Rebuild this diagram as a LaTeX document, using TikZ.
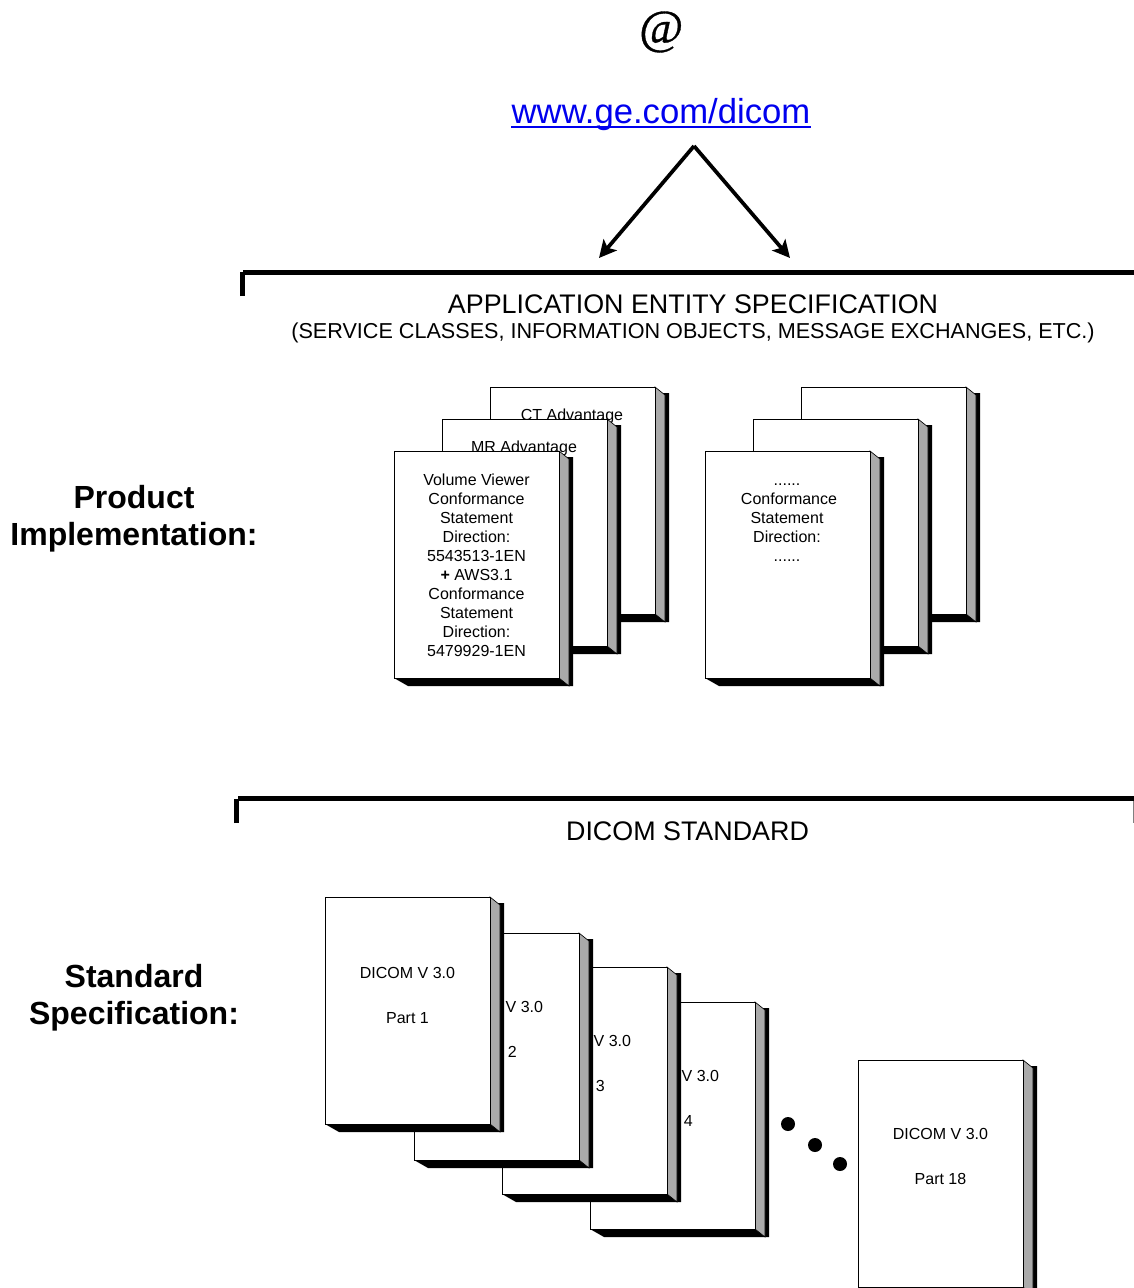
\documentclass[tikz,border=0pt]{standalone}
\usepackage{fontspec}
\setmainfont{Liberation Sans}
\newfontfamily\atfont[ItalicFeatures={FakeBold=0.7}]{Liberation Serif}
\usetikzlibrary{arrows.meta}

\definecolor{sidegray}{RGB}{170,170,170}
\definecolor{linkblue}{RGB}{0,0,238}
\tikzset{
  pagetext/.style={font=\fontsize{12}{14.25}\selectfont,align=center,inner sep=0pt},
  headtext/.style={font=\fontsize{20.15}{24}\selectfont,inner sep=0pt},
  sidetext/.style={font=\fontsize{24}{27.75}\selectfont\bfseries,align=center,inner sep=0pt},
  bigarrow/.style={line width=2.8pt,-{Stealth[length=13pt,width=13pt,inset=3pt]}},
  barline/.style={line width=3.75pt},
}
% one sheet with its shadow, top left corner at #1,#2
\newcommand{\docpage}[2]{
  \begin{scope}[shift={(#1,#2)}]
  \fill[black] (165,6)--(179,6)--(179,235)--(14,235)--(0,227)--cycle;
  \draw[fill=sidegray,line width=0.5pt] (165,0)--(175,8)--(175,235)--(165,227)--cycle;
  \draw[fill=white,line width=0.75pt] (0,0) rectangle (165,227);
  \end{scope}
}

\begin{document}
\begin{tikzpicture}[x=0.75pt,y=-0.75pt]
\useasboundingbox (0,0) rectangle (1134,1288);
\node (at) [font=\atfont\itshape\fontsize{36}{36}\selectfont,inner sep=0pt] at (661,32) {@};
\node (url) [font=\fontsize{26}{30}\selectfont,text=linkblue,inner sep=0pt,anchor=base] at (661,123) {www.ge.com/dicom};
\draw[linkblue,line width=2pt] ([yshift=-3pt]url.base west)--([yshift=-3pt]url.base east);

% arrows down to the specification
\coordinate (apex) at (694,146);
\coordinate (leftend) at (599,258);
\coordinate (rightend) at (790,258);
\draw[bigarrow] (apex)--(leftend);
\draw[bigarrow] (apex)--(rightend);

% upper bracket
\draw[barline] (242,296)--(242,272);
\draw[barline] (243,272)--(1134,272);
\node (aes) [headtext] at (693,304) {APPLICATION ENTITY SPECIFICATION};
\node (aessub) [font=\fontsize{16.2}{19}\selectfont,inner sep=0pt] at (693,333) {(SERVICE CLASSES, INFORMATION OBJECTS, MESSAGE EXCHANGES, ETC.)};
\node (product) [sidetext] at (134,519) {Product\\Implementation:};

% conformance statements
\docpage{490}{387}
\node (ct) [pagetext] at (572,416) {CT Advantage};
\docpage{442}{419}
\node (mr) [pagetext] at (524,448) {MR Advantage};
\docpage{394}{451}
\node (volume) [pagetext] at (476.5,565) {Volume Viewer\\Conformance\\Statement\\Direction:\\5543513-1EN\\{\bfseries +} AWS3.1\\Conformance\\Statement\\Direction:\\5479929-1EN};
\docpage{801}{387}
\docpage{753}{419}
\docpage{705}{451}
\node (other) [pagetext] at (787,523) {......\\\hspace*{3pt}Conformance\\Statement\\Direction:\\......};

% lower bracket
\draw[barline] (236.8,823)--(236.8,799);
\draw[barline] (238,798.5)--(1134,798.5);
\draw[gray,line width=0.75pt] (1133.5,801)--(1133.5,823);
\node (dicom) [headtext] at (687.5,831) {DICOM STANDARD};
\node (standard) [sidetext] at (134,998) {Standard\\Specification:};

% parts of the standard
\docpage{590}{1002}
\node (partfour) [pagetext] at (671.5,1098.5) {DICOM V 3.0\\[19.5pt]Part 4};
\docpage{502}{967}
\node (partthree) [pagetext] at (583.5,1063.5) {DICOM V 3.0\\[19.5pt]Part 3};
\docpage{414}{933}
\node (parttwo) [pagetext] at (495.5,1029) {DICOM V 3.0\\[19.5pt]Part 2};
\docpage{325}{897}
\node (partone) [pagetext] at (407.5,995) {DICOM V 3.0\\[19.5pt]Part 1};
\docpage{858}{1060}
\node (parteighteen) [pagetext] at (940.5,1156) {DICOM V 3.0\\[19.5pt]Part 18};

\foreach \dotx/\doty in {788/1124,815/1145,840/1164}
  \fill (\dotx,\doty) circle (5.25pt);
\end{tikzpicture}
\end{document}
